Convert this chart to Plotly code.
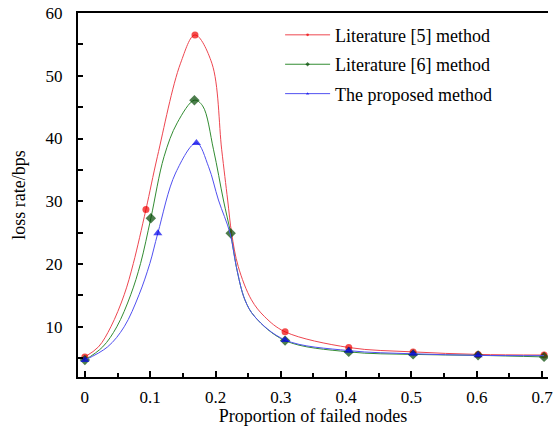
import plotly.graph_objects as go

# ---- data ----
# curve knots (x, y) and which knots carry a visible marker (1) or not (0)
lit5_x = [0.0, 0.0208, 0.0398, 0.0602, 0.0742, 0.0935, 0.111, 0.1465, 0.1686, 0.1944, 0.2095, 0.2186, 0.2247, 0.2348, 0.255, 0.2753, 0.3065, 0.404, 0.5025, 0.602, 0.703]
lit5_y = [5.2, 6.8, 10.0, 15.1, 20.1, 28.7, 37.1, 52.0, 56.5, 52.0, 38.2, 30.2, 24.9, 19.6, 14.3, 11.6, 9.2, 6.7, 6.0, 5.6, 5.5]
lit5_m = [1, 0, 0, 0, 0, 1, 0, 0, 1, 0, 0, 0, 0, 0, 0, 0, 1, 1, 1, 1, 1]

lit6_x = [0.0, 0.0273, 0.0489, 0.0702, 0.0853, 0.101, 0.1212, 0.1414, 0.1677, 0.1803, 0.197, 0.2121, 0.2232, 0.2318, 0.245, 0.2602, 0.3065, 0.404, 0.5025, 0.602, 0.703]
lit6_y = [4.7, 6.8, 10.0, 15.1, 20.1, 27.3, 37.1, 42.5, 46.1, 45.2, 38.2, 30.2, 24.9, 19.6, 14.3, 11.6, 7.8, 6.0, 5.6, 5.45, 5.2]
lit6_m = [1, 0, 0, 0, 0, 1, 0, 0, 1, 0, 0, 0, 1, 0, 0, 0, 1, 1, 1, 1, 1]

prop_x = [0.0, 0.0348, 0.0602, 0.0829, 0.0995, 0.1117, 0.1389, 0.1708, 0.1894, 0.2045, 0.2223, 0.2318, 0.245, 0.2602, 0.3065, 0.404, 0.5025, 0.602, 0.703]
prop_y = [4.7, 6.8, 10.0, 15.1, 20.1, 24.9, 34.5, 39.3, 35.5, 30.2, 24.9, 19.6, 14.3, 11.6, 7.9, 6.2, 5.7, 5.45, 5.4]
prop_m = [1, 0, 0, 0, 0, 1, 0, 1, 0, 0, 0, 0, 0, 0, 1, 1, 1, 1, 0]

names = ["Literature [5] method", "Literature [6] method", "The proposed method"]
x_ticks = [0, 0.1, 0.2, 0.3, 0.4, 0.5, 0.6, 0.7]
x_tick_text = ["0", "0.1", "0.2", "0.3", "0.4", "0.5", "0.6", "0.7"]
y_ticks = [10, 20, 30, 40, 50, 60]

FONT = "Liberation Serif, Times New Roman, serif"

series = [
    (lit5_x, lit5_y, lit5_m, names[0], "rgb(238,70,80)", "rgb(240,0,0)", "circle", 7),
    (lit6_x, lit6_y, lit6_m, names[1], "rgb(50,140,50)", "rgb(0,70,0)", "diamond", 8),
    (prop_x, prop_y, prop_m, names[2], "rgb(80,80,240)", "rgb(0,0,235)", "triangle-up", 8),
]

fig = go.Figure()
for i, (xs, ys, ms, nm, lc, mc, sym, sz) in enumerate(series):
    fig.add_trace(go.Scatter(
        x=xs, y=ys, name=nm, mode="lines+markers", legendgroup=f"g{i}",
        line=dict(color=lc, width=1, shape="spline", smoothing=1.0),
        marker=dict(color=mc, symbol=sym, size=[sz if m else 0 for m in ms], line=dict(width=0)),
    ))

fig.update_layout(
    width=553, height=426,
    margin=dict(l=78, r=0, t=13, b=49),
    paper_bgcolor="white", plot_bgcolor="white",
    font=dict(family=FONT, size=17, color="black"),
    showlegend=True,
    legend=dict(
        x=0.43, y=0.99, xanchor="left", yanchor="top",
        bgcolor="rgba(0,0,0,0)", borderwidth=0,
        font=dict(family=FONT, size=18, color="black"),
        itemwidth=45, tracegroupgap=3,
    ),
    xaxis=dict(
        range=[-0.0105, 0.709],
        tickmode="array", tickvals=x_ticks, ticktext=x_tick_text,
        ticks="inside", ticklen=6, tickwidth=1.5, tickcolor="black",
        minor=dict(dtick=0.05, tick0=0, ticks="inside", ticklen=4, tickwidth=1.5, tickcolor="black"),
        showline=True, linecolor="black", linewidth=2, mirror=True,
        showgrid=False, zeroline=False,
        tickfont=dict(family=FONT, size=17),
        ticklabelstandoff=4, ticklabeloverflow="allow",
        title=dict(text="Proportion of failed nodes", font=dict(family=FONT, size=18), standoff=6),
    ),
    yaxis=dict(
        range=[2.0, 60],
        tickmode="array", tickvals=y_ticks,
        ticks="inside", ticklen=5, tickwidth=1.5, tickcolor="black",
        minor=dict(dtick=5, tick0=0, ticks="inside", ticklen=5, tickwidth=1.5, tickcolor="black"),
        showline=True, linecolor="black", linewidth=2, mirror=False,
        showgrid=False, zeroline=False,
        tickfont=dict(family=FONT, size=17),
        ticklabelstandoff=10,
        title=dict(text="loss rate/bps", font=dict(family=FONT, size=18), standoff=15),
    ),
)

fig.write_html("out.html", config={"displayModeBar": False},
               post_script="document.body.style.margin='0';document.body.style.overflow='hidden';")
